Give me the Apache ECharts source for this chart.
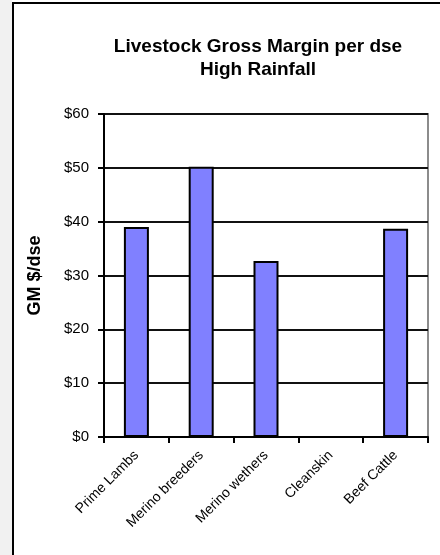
<!DOCTYPE html>
<html>
<head>
<meta charset="utf-8">
<script src="https://cdn.jsdelivr.net/npm/echarts@6/dist/echarts.min.js"></script>
<style>
  html, body { margin: 0; padding: 0; background: #ffffff; }
  #chart { width: 440px; height: 555px; }
</style>
</head>
<body>
<div id="chart"></div>
<script>
// Gross margin per dry sheep equivalent, high rainfall zone
const categories = ['Prime Lambs', 'Merino breeders', 'Merino wethers', 'Cleanskin', 'Beef Cattle'];
const grossMargin = [39.0, 50.2, 32.7, null, 38.7];
const titleLines = ['Livestock Gross Margin per dse', 'High Rainfall'];
const yAxisName = 'GM $/dse';

const FONT = '"Liberation Sans", Arial, Helvetica, sans-serif';

const chart = echarts.init(document.getElementById('chart'), null, { renderer: 'canvas' });

chart.setOption({
  backgroundColor: '#ffffff',
  animation: false,
  title: {
    text: titleLines.join('\n'),
    left: 253,
    top: 30,
    textAlign: 'center',
    textStyle: {
      fontFamily: FONT,
      fontSize: 19,
      fontWeight: 'bold',
      color: '#000000',
      lineHeight: 23
    }
  },
  graphic: [
    // shaded margin strip and frame edges
    { type: 'rect', left: 0, top: 0, shape: { width: 12, height: 555 }, style: { fill: '#f1f1f1' }, silent: true, z: -1 },
    { type: 'line', shape: { x1: 13, y1: 3, x2: 13, y2: 555 }, style: { stroke: '#000000', lineWidth: 2 }, silent: true },
    { type: 'line', shape: { x1: 12, y1: 3, x2: 440, y2: 3 }, style: { stroke: '#000000', lineWidth: 2 }, silent: true }
  ],
  grid: {
    left: 104,
    top: 114,
    width: 324,
    height: 323,
    show: true,
    borderColor: '#8c8c8c',
    borderWidth: 2,
    backgroundColor: '#ffffff'
  },
  xAxis: {
    type: 'category',
    data: categories,
    boundaryGap: true,
    axisLine: { lineStyle: { color: '#000000', width: 2 } },
    axisTick: { show: true, alignWithLabel: false, length: 6, lineStyle: { color: '#000000', width: 2 } },
    axisLabel: {
      rotate: 45,
      interval: 0,
      margin: 16,
      fontFamily: FONT,
      fontSize: 14,
      color: '#000000'
    }
  },
  yAxis: {
    type: 'value',
    min: 0,
    max: 60,
    interval: 10,
    name: yAxisName,
    nameLocation: 'middle',
    nameGap: 60,
    nameTextStyle: { fontFamily: FONT, fontSize: 18, fontWeight: 'bold', color: '#000000' },
    axisLine: { show: true, lineStyle: { color: '#000000', width: 2 } },
    axisTick: { show: true, length: 6, lineStyle: { color: '#000000', width: 2 } },
    axisLabel: {
      formatter: '${value}',
      margin: 15,
      fontFamily: FONT,
      fontSize: 15,
      color: '#000000'
    },
    splitLine: { show: true, lineStyle: { color: '#111111', width: 2 } }
  },
  series: [{
    type: 'bar',
    data: grossMargin,
    barWidth: 25,
    itemStyle: { color: '#8080ff', borderColor: '#000000', borderWidth: 2 }
  }]
});
</script>
</body>
</html>
